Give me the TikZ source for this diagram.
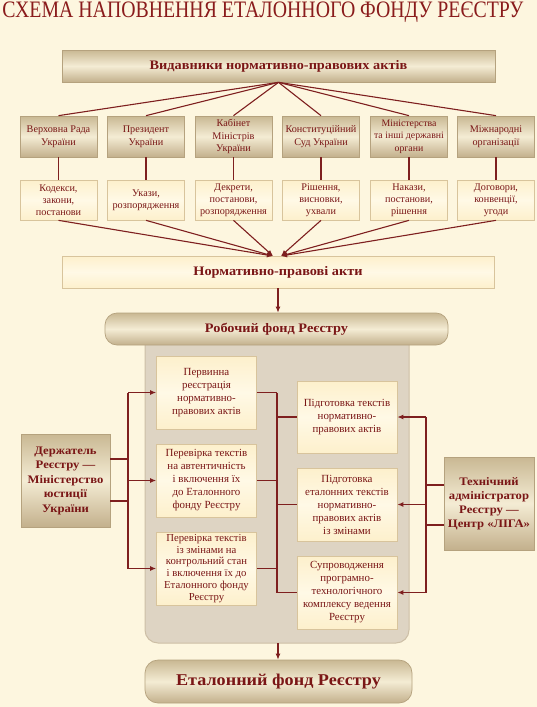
\documentclass[tikz,border=0pt]{standalone}
\usepackage{fontspec}
\usepackage{graphicx}
\setmainfont{Liberation Serif}
\newfontface\hdfont[FakeStretch=1.1]{Liberation Serif Bold}
\usetikzlibrary{arrows.meta}
\definecolor{bgc}{HTML}{FDF6DF}
\definecolor{txt}{HTML}{7A1616}
\definecolor{titc}{HTML}{8A1C1C}
\definecolor{linec}{HTML}{7E1F1F}
\definecolor{tanA}{HTML}{C9B893}
\definecolor{tanB}{HTML}{F4ECD4}
\definecolor{tanC}{HTML}{C3B08C}
\definecolor{tanD}{HTML}{B5A27E}
\definecolor{liteA}{HTML}{FDF0CC}
\definecolor{liteB}{HTML}{FFF9E6}
\definecolor{liteD}{HTML}{D8C49C}
\definecolor{panelc}{HTML}{DED4C3}
\definecolor{paneld}{HTML}{CDBFA6}
\tikzset{
  tanbox/.style={draw=tanD, line width=0.7pt, top color=tanA, bottom color=tanC, middle color=tanB, text=txt, align=center, inner sep=1pt},
  litebox/.style={draw=liteD, line width=0.7pt, top color=liteA, bottom color=liteA, middle color=liteB, text=txt, align=center, inner sep=1pt},
  issuer/.style={tanbox, minimum width=77pt, minimum height=41pt, font=\fontsize{10.2}{12.5}\selectfont},
  actbox/.style={litebox, minimum width=77pt, minimum height=40pt, font=\fontsize{10.2}{12}\selectfont},
  innerbox/.style={litebox, minimum width=100pt, minimum height=73pt, font=\fontsize{10.9}{13}\selectfont},
  headbox/.style={minimum width=432pt, minimum height=32pt, font=\hdfont\fontsize{13}{15}\selectfont},
  conn/.style={draw=linec, line width=1.1pt},
  arr/.style={conn, -{Latex[length=6pt,width=5pt]}},
}
\begin{document}
\begin{tikzpicture}[x=1pt,y=-1pt]
\fill[bgc] (0,0) rectangle (537,707);
\useasboundingbox (0,0) rectangle (537,707);

\node[text=titc, inner sep=0pt] (title) at (263,12.5) {\scalebox{0.99}[1.18]{\fontsize{20}{20}\selectfont СХЕМА НАПОВНЕННЯ ЕТАЛОННОГО ФОНДУ РЕЄСТРУ}};

\node[tanbox, headbox, minimum width=433pt] (vid) at (278.5,66) {Видавники нормативно-правових актів};

\node[issuer] (iss1) at (58.5,136.5) {Верховна Рада\\України};
\node[issuer] (iss2) at (146,136.5) {Президент\\України};
\node[issuer] (iss3) at (233.5,136.5) {Кабінет\\Міністрів\\України};
\node[issuer] (iss4) at (321,136.5) {Конституційний\\Суд України};
\node[issuer, font=\fontsize{9.8}{12.5}\selectfont] (iss5) at (409,136.5) {Міністерства\\та інші державні\\органи};
\node[issuer] (iss6) at (496,136.5) {Міжнародні\\організації};

\node[actbox] (act1) at (58.5,200) {Кодекси,\\закони,\\постанови};
\node[actbox] (act2) at (146,200) {Укази,\\розпорядження};
\node[actbox] (act3) at (233.5,200) {Декрети,\\постанови,\\розпорядження};
\node[actbox] (act4) at (321,200) {Рішення,\\висновки,\\ухвали};
\node[actbox] (act5) at (409,200) {Накази,\\постанови,\\рішення};
\node[actbox] (act6) at (496,200) {Договори,\\конвенції,\\угоди};

\node[litebox, headbox] (npa) at (278,272) {Нормативно-правові акти};

% panel
\path[fill=panelc, draw=paneld, line width=1pt, rounded corners=13pt] (145,330) -- (145,643) -- (409,643) -- (409,330) -- cycle;

\node[tanbox, headbox, minimum width=343pt, rounded corners=12pt] (pill1) at (276.5,329) {Робочий фонд Реєстру};
\node[tanbox, minimum width=267pt, minimum height=43pt, rounded corners=13pt, font=\hdfont\fontsize{16.5}{18}\selectfont] (pill2) at (278.5,681.5) {Еталонний фонд Реєстру};

\node[innerbox] (L1) at (206.5,392.5) {Первинна\\реєстрація\\нормативно-\\правових актів};
\node[innerbox] (L2) at (206.5,480.5) {Перевірка текстів\\на автентичність\\і включення їх\\до Еталонного\\фонду Реєстру};
\node[innerbox, font=\fontsize{10.7}{11.9}\selectfont] (L3) at (206.5,568.5) {Перевірка текстів\\із змінами на\\контрольний стан\\і включення їх до\\Еталонного фонду\\Реєстру};
\node[innerbox, minimum height=72pt] (R1) at (347,417) {Підготовка текстів\\нормативно-\\правових актів};
\node[innerbox] (R2) at (347,504.5) {Підготовка\\еталонних текстів\\нормативно-\\правових актів\\із змінами};
\node[innerbox] (R3) at (347,592.5) {Супроводження\\програмно-\\технологічного\\комплексу ведення\\Реєстру};

\node[tanbox, minimum width=89pt, minimum height=93pt, font=\hdfont\fontsize{11.5}{14.5}\selectfont] (derzh) at (65.5,480.5) {Держатель\\Реєстру —\\Міністерство\\юстиції\\України};
\node[tanbox, minimum width=90pt, minimum height=93pt, font=\hdfont\fontsize{11.5}{14}\selectfont] (tech) at (489,503.5) {Технічний\\адміністратор\\Реєстру —\\Центр «ЛІГА»};

% top fan
\foreach \i in {1,...,6} {
  \draw[conn] (vid.south) -- (iss\i.north);
  \draw[conn] (iss\i.south) -- (act\i.north);
}
\coordinate (cl) at (273,256);
\coordinate (cr) at (281,256);
\foreach \i in {1,2,3} \draw[arr] (act\i.south) -- (cl);
\foreach \i in {4,5,6} \draw[arr] (act\i.south) -- (cr);

\draw[arr] (npa.south) -- (npa.south |- pill1.north);
\coordinate (pb) at (278,643);
\draw[arr] (pb) -- (pb |- pill2.north);

% left bracket
\coordinate (lx) at (128,0);
\draw[conn] (L1.west -| lx) -- (L3.west -| lx);
\foreach \n in {L1,L2,L3} \draw[arr] (\n.west -| lx) -- (\n.west);
\draw[conn] ([yshift=21.5pt]derzh.east) coordinate (d1) -- (d1 -| lx);
\draw[conn] ([yshift=-20.5pt]derzh.east) coordinate (d2) -- (d2 -| lx);

% right bracket
\coordinate (rx) at (426,0);
\draw[conn] (R1.east -| rx) -- (R3.east -| rx);
\foreach \n in {R1,R2,R3} \draw[arr] (\n.east -| rx) -- (\n.east);
\draw[conn] ([yshift=18.5pt]tech.west) coordinate (t1) -- (t1 -| rx);
\draw[conn] ([yshift=-21.5pt]tech.west) coordinate (t2) -- (t2 -| rx);

% inner spine
\coordinate (mx) at (277,0);
\draw[conn] (L1.east -| mx) -- (R3.west -| mx);
\foreach \n in {L1,L2,L3} \draw[conn] (\n.east) -- (\n.east -| mx);
\foreach \n in {R1,R2,R3} \draw[conn] (\n.west -| mx) -- (\n.west);
\end{tikzpicture}
\end{document}
